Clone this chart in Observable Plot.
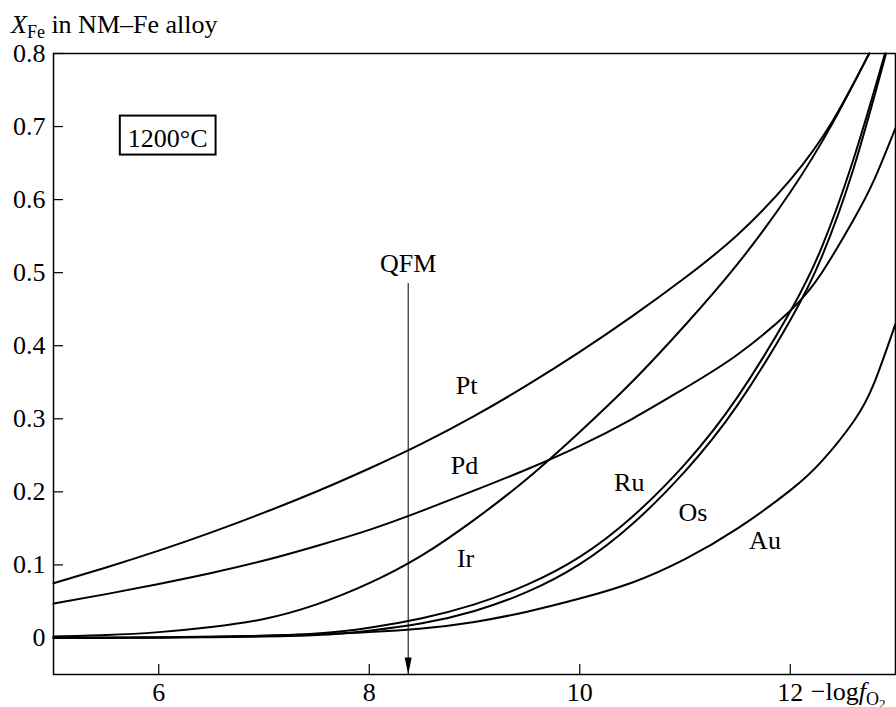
<!DOCTYPE html>
<html><head><meta charset="utf-8">
<script src="https://cdn.jsdelivr.net/npm/d3@7"></script>
<script src="https://cdn.jsdelivr.net/npm/@observablehq/plot@0.6"></script>
<style>
body{margin:0;background:#fff}
svg{font-family:"Liberation Serif","Times New Roman",serif}
</style>
</head><body><div id="chart"></div>
<script>
// ---- data (x = -log fO2, y = X_Fe) ----
const pt = [[5,0.075],[5.5,0.0965],[6,0.1195],[6.5,0.1445],[7,0.1715],[7.5,0.2005],[8,0.232],[8.5,0.266],[9,0.304],[9.5,0.346],[10,0.3915],[10.5,0.4405],[11,0.493],[11.5,0.552],[12,0.627],[12.4,0.707],[12.75,0.80]];
const pd = [[5,0.047],[5.5,0.060],[6,0.074],[6.5,0.089],[7,0.106],[7.5,0.126],[8,0.148],[8.5,0.174],[9,0.202],[9.5,0.231],[10,0.263],[10.5,0.300],[11,0.342],[11.5,0.388],[12,0.448],[12.3,0.500],[12.6,0.572],[12.8,0.628],[13,0.698]];
const ir = [[5,0.002],[5.5,0.004],[6,0.008],[6.5,0.015],[7,0.026],[7.5,0.046],[8,0.075],[8.5,0.113],[9,0.162],[9.5,0.218],[10,0.282],[10.5,0.351],[11,0.428],[11.5,0.512],[12,0.610],[12.4,0.704],[12.75,0.80]];
const ru = [[5,0.0],[6,0.0008],[6.5,0.0015],[7,0.003],[7.5,0.006],[8,0.014],[8.5,0.027],[9,0.046],[9.5,0.073],[10,0.111],[10.5,0.166],[11,0.238],[11.5,0.330],[12,0.447],[12.3,0.535],[12.6,0.655],[12.9,0.80]];
const os = [[5,0.0],[6,0.0005],[6.5,0.001],[7,0.002],[7.5,0.004],[8,0.010],[8.5,0.020],[9,0.037],[9.5,0.063],[10,0.101],[10.5,0.156],[11,0.228],[11.5,0.319],[12,0.435],[12.3,0.522],[12.6,0.642],[12.91,0.80]];
const au = [[5,0.0],[6,0.0008],[7,0.003],[7.5,0.005],[8,0.008],[8.5,0.013],[9,0.022],[9.5,0.036],[10,0.054],[10.5,0.076],[11,0.108],[11.5,0.150],[12,0.202],[12.3,0.242],[12.6,0.296],[12.8,0.350],[13,0.430]];

const seriesNames = ["Pt","Pd","Ir","Ru","Os","Au"];
const seriesPoints = [pt, pd, ir, ru, os, au];

// curve labels (data coordinates)
const labelNames = ["Pt","Pd","Ir","Ru","Os","Au"];
const labelX = [8.925, 8.906, 8.915, 10.47, 11.076, 11.76];
const labelY = [0.346, 0.2353, 0.108, 0.212, 0.172, 0.1327];

const yTicks = [0,0.1,0.2,0.3,0.4,0.5,0.6,0.7,0.8];
const xTicks = [6,8,10,12];
const xDomain = [5,13];
const yDomain = [-0.05,0.8];

const qfmX = 8.37;      // QFM buffer
const qfmTop = 0.485;   // top of arrow
const qfmLabelY = 0.513;
const tempText = "1200°C";
const tempX = 6.085, tempY = 0.684;

// ---- build table ----
const data = seriesNames.flatMap((name, i) => seriesPoints[i].map(([x, y]) => ({name, x, y})));
const labels = labelNames.map((name, i) => ({name, x: labelX[i], y: labelY[i]}));

const arrowHead = {
  draw(ctx) { ctx.moveTo(0, 0); ctx.lineTo(-3.5, -17); ctx.lineTo(3.5, -17); ctx.closePath(); }
};

const FS = 26;
const chart = Plot.plot({
  width: 896, height: 707,
  marginLeft: 53, marginRight: 1, marginTop: 53, marginBottom: 33,
  style: {fontFamily: '"Liberation Serif","Times New Roman",serif', fontSize: FS + "px", color: "black", background: "white"},
  x: {domain: xDomain},
  y: {domain: yDomain},
  marks: [
    Plot.axisY(yTicks, {tickSize: 10, dx: 10, fill: "none", stroke: "black", strokeWidth: 1.2, label: null}),
    Plot.axisY(yTicks, {tickSize: 0, tickPadding: 8, stroke: "none", fill: "black", fontSize: FS, label: null,
      tickFormat: d => d === 0 ? "0" : d.toFixed(1)}),
    Plot.axisX(xTicks, {tickSize: 10, dy: -10, fill: "none", stroke: "black", strokeWidth: 1.2, label: null}),
    Plot.axisX(xTicks, {tickSize: 0, tickPadding: 8, stroke: "none", fill: "black", fontSize: FS, label: null,
      tickFormat: d => String(d)}),
    Plot.line(data, {x: "x", y: "y", z: "name", stroke: "black", strokeWidth: 2, curve: "natural"}),
    Plot.ruleX([qfmX], {y1: yDomain[0], y2: qfmTop, stroke: "black", strokeWidth: 1}),
    Plot.dot([qfmX], {x: d => d, y: () => yDomain[0], symbol: arrowHead, fill: "black", stroke: "none", r: 5}),
    Plot.text(["QFM"], {x: () => qfmX, y: () => qfmLabelY, text: d => d, fontSize: FS, fill: "black"}),
    Plot.text(labels, {x: "x", y: "y", text: "name", fontSize: FS, fill: "black"}),
    Plot.text([tempText], {x: () => tempX, y: () => tempY, text: d => d, fontSize: FS, fill: "black"}),
    Plot.frame({stroke: "black", strokeWidth: 1.5})
  ]
});

document.getElementById("chart").appendChild(chart);

const svg = d3.select(chart);
const sx = chart.scale("x");
const svgBox = chart.getBoundingClientRect();

// box around temperature label
svg.selectAll("text").filter(function(){ return this.textContent === tempText; }).each(function(){
  const b = this.getBoundingClientRect();
  const x0 = b.left - svgBox.left, y0 = b.top - svgBox.top;
  svg.append("rect").attr("x", x0 - 8).attr("y", y0 - 8).attr("width", b.width + 16).attr("height", b.height + 10)
    .attr("fill", "none").attr("stroke", "black").attr("stroke-width", 2);
});

// y-axis title
const title = svg.append("text").attr("x", 11).attr("y", 33).attr("text-anchor", "start")
  .attr("font-size", FS).attr("fill", "black");
title.append("tspan").attr("font-style", "italic").text("X");
title.append("tspan").attr("font-size", 18).attr("dy", 5).text("Fe");
title.append("tspan").attr("dy", -5).text(" in NM–Fe alloy");

// x-axis title next to the last tick
const xt = svg.append("text").attr("x", sx.apply(12) + 21).attr("y", 700).attr("text-anchor", "start")
  .attr("font-size", FS).attr("fill", "black");
xt.append("tspan").text("−log");
xt.append("tspan").attr("font-style", "italic").text("f");
xt.append("tspan").attr("font-size", 18).attr("dy", 5).text("O");
xt.append("tspan").attr("font-size", 13).attr("dy", 3).text("2");
</script>
</body></html>
